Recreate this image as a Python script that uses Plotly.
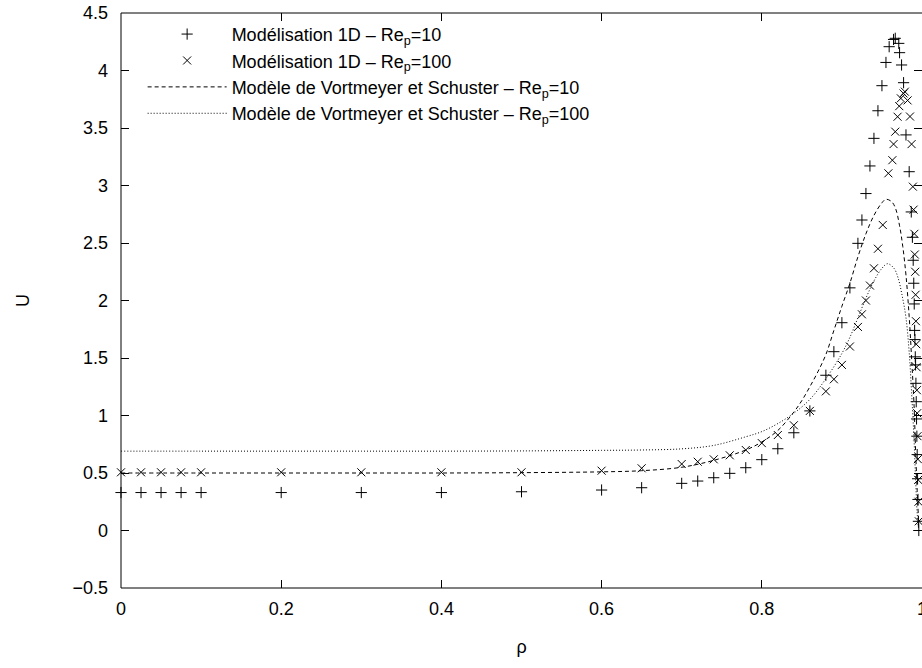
import plotly.graph_objects as go

# Modélisation 1D, Re_p = 10  (symboles +)
rho_re10 = [0, 0.025, 0.05, 0.075, 0.1, 0.2, 0.3, 0.4, 0.5, 0.6, 0.65, 0.7, 0.72, 0.74,
            0.76, 0.78, 0.8, 0.82, 0.84, 0.86, 0.88, 0.89, 0.9, 0.91, 0.92, 0.925, 0.93,
            0.935, 0.94, 0.945, 0.95, 0.955, 0.959, 0.9645, 0.9666, 0.971, 0.972, 0.9745,
            0.977, 0.98, 0.984, 0.9866, 0.988, 0.989, 0.9897, 0.9903, 0.9908, 0.9912,
            0.9916, 0.992, 0.9924, 0.9928, 0.9932, 0.9936, 0.994, 0.9945, 0.995, 0.9955,
            0.996]
u_re10 = [0.33, 0.33, 0.33, 0.33, 0.33, 0.33, 0.33, 0.33, 0.337, 0.352, 0.372, 0.41, 0.43,
          0.459, 0.497, 0.546, 0.616, 0.711, 0.85, 1.04, 1.35, 1.555, 1.807, 2.11, 2.497,
          2.70, 2.93, 3.17, 3.41, 3.65, 3.868, 4.07, 4.207, 4.27, 4.28, 4.236, 4.155, 4.048,
          3.894, 3.44, 3.12, 2.77, 2.55, 2.35, 2.15, 1.97, 1.74, 1.66, 1.51, 1.44, 1.28,
          1.12, 0.97, 0.82, 0.66, 0.45, 0.27, 0.08, 0.0]

# Modélisation 1D, Re_p = 100  (symboles x)
rho_re100 = [0, 0.025, 0.05, 0.075, 0.1, 0.2, 0.3, 0.4, 0.5, 0.6, 0.65, 0.7, 0.72, 0.74,
             0.76, 0.78, 0.8, 0.82, 0.84, 0.86, 0.88, 0.89, 0.9, 0.91, 0.92, 0.925, 0.93,
             0.935, 0.94, 0.945, 0.951, 0.958, 0.963, 0.9645, 0.9666, 0.9695, 0.9716,
             0.9736, 0.977, 0.9786, 0.982, 0.985, 0.987, 0.9886, 0.9895, 0.9905, 0.991,
             0.9915, 0.992, 0.9924, 0.9928, 0.9932, 0.9936, 0.994, 0.9944, 0.9948, 0.9952,
             0.9956, 0.996]
u_re100 = [0.506, 0.506, 0.506, 0.506, 0.506, 0.506, 0.506, 0.506, 0.506, 0.52, 0.541,
           0.578, 0.598, 0.619, 0.654, 0.70, 0.76, 0.83, 0.915, 1.04, 1.21, 1.315, 1.44,
           1.60, 1.77, 1.88, 2.0, 2.13, 2.28, 2.45, 2.657, 3.106, 3.22, 3.36, 3.468, 3.598,
           3.69, 3.758, 3.80, 3.816, 3.74, 3.60, 3.36, 2.99, 2.79, 2.58, 2.40, 2.25, 2.05,
           1.82, 1.62, 1.42, 1.22, 1.02, 0.82, 0.62, 0.44, 0.25, 0.08]

# Modèle de Vortmeyer et Schuster, Re_p = 10  (tirets)
rho_vs10 = [0, 0.1, 0.2, 0.3, 0.4, 0.5, 0.6, 0.65, 0.7, 0.74, 0.78, 0.8, 0.82, 0.84, 0.85,
            0.86, 0.87, 0.88, 0.89, 0.9, 0.91, 0.92, 0.93, 0.94, 0.95, 0.955, 0.962, 0.967,
            0.972, 0.976, 0.98, 0.984, 0.987, 0.99, 0.992, 0.994, 0.996]
u_vs10 = [0.5, 0.5, 0.5, 0.5, 0.5, 0.503, 0.51, 0.52, 0.55, 0.61, 0.70, 0.77, 0.87, 1.03,
          1.13, 1.25, 1.38, 1.53, 1.74, 1.95, 2.15, 2.38, 2.58, 2.74, 2.85, 2.88, 2.86,
          2.80, 2.65, 2.47, 2.22, 1.86, 1.50, 1.10, 0.70, 0.35, 0.05]

# Modèle de Vortmeyer et Schuster, Re_p = 100  (pointillés)
rho_vs100 = [0, 0.1, 0.2, 0.3, 0.4, 0.5, 0.6, 0.65, 0.7, 0.74, 0.78, 0.8, 0.82, 0.84, 0.86,
             0.88, 0.9, 0.91, 0.92, 0.93, 0.94, 0.95, 0.957, 0.965, 0.97, 0.975, 0.98, 0.984,
             0.987, 0.99, 0.992, 0.994, 0.996]
u_vs100 = [0.69, 0.69, 0.69, 0.69, 0.69, 0.692, 0.697, 0.70, 0.71, 0.74, 0.815, 0.86, 0.93,
           1.02, 1.14, 1.32, 1.54, 1.68, 1.85, 2.02, 2.17, 2.28, 2.32, 2.28, 2.20, 2.05,
           1.85, 1.55, 1.20, 0.80, 0.45, 0.15, 0.0]

x_ticks = [0, 0.2, 0.4, 0.6, 0.8, 1]
x_labels = ['0', '0.2', '0.4', '0.6', '0.8', '1']
y_ticks = [-0.5, 0, 0.5, 1, 1.5, 2, 2.5, 3, 3.5, 4, 4.5]
y_labels = ['\u22120.5', '0', '0.5', '1', '1.5', '2', '2.5', '3', '3.5', '4', '4.5']

FONT = 'Liberation Sans'

fig = go.Figure()

fig.add_trace(go.Scatter(
    x=rho_re10, y=u_re10, mode='markers', cliponaxis=False,
    name='Modélisation 1D \u2013 Re<sub>p</sub>=10',
    marker=dict(symbol='cross-thin', size=8, color='black',
                line=dict(color='black', width=1))))

fig.add_trace(go.Scatter(
    x=rho_re100, y=u_re100, mode='markers', cliponaxis=False,
    name='Modélisation 1D \u2013 Re<sub>p</sub>=100',
    marker=dict(symbol='x-thin', size=8, color='black',
                line=dict(color='black', width=1))))

fig.add_trace(go.Scatter(
    x=rho_vs10, y=u_vs10, mode='lines', line_shape='spline',
    name='Modèle de Vortmeyer et Schuster \u2013 Re<sub>p</sub>=10',
    line=dict(color='black', width=1, dash='4px,3px')))

fig.add_trace(go.Scatter(
    x=rho_vs100, y=u_vs100, mode='lines', line_shape='spline',
    name='Modèle de Vortmeyer et Schuster \u2013 Re<sub>p</sub>=100',
    line=dict(color='black', width=1, dash='1px,2px')))

# cadre (le bord droit tombe hors de la fenêtre)
fig.add_shape(type='rect', xref='paper', yref='paper', x0=0, x1=1.01, y0=0, y1=1,
              line=dict(color='black', width=1), layer='above')

fig.update_xaxes(range=[0, 1], tickvals=x_ticks, ticktext=x_labels,
                 ticks='inside', ticklen=8, tickcolor='black', mirror='ticks',
                 showline=False, showgrid=False, zeroline=False, automargin=False,
                 ticklabelstandoff=8, ticklabeloverflow='allow',
                 title=dict(text='\u03c1', standoff=22, font=dict(size=18)))
fig.update_yaxes(range=[-0.5, 4.5], tickvals=y_ticks, ticktext=y_labels,
                 ticks='inside', ticklen=8, tickcolor='black', mirror='ticks',
                 showline=False, showgrid=False, zeroline=False, automargin=False,
                 ticklabelstandoff=12, ticklabeloverflow='allow',
                 title=dict(text='U', standoff=38, font=dict(size=18)))

fig.update_layout(
    width=922, height=668,
    margin=dict(l=121, r=0, t=13, b=80),
    plot_bgcolor='white', paper_bgcolor='white',
    font=dict(family=FONT, size=18, color='black'),
    legend=dict(x=0.027, y=0.995, xanchor='left', yanchor='top',
                bgcolor='rgba(0,0,0,0)', itemwidth=79,
                font=dict(size=18), tracegroupgap=0),
)

# sans la marge de 8 px du <body>, la figure remplit exactement la fenêtre
fig.write_html("out.html", config={'displayModeBar': False},
               post_script="document.body.style.margin = '0';")
